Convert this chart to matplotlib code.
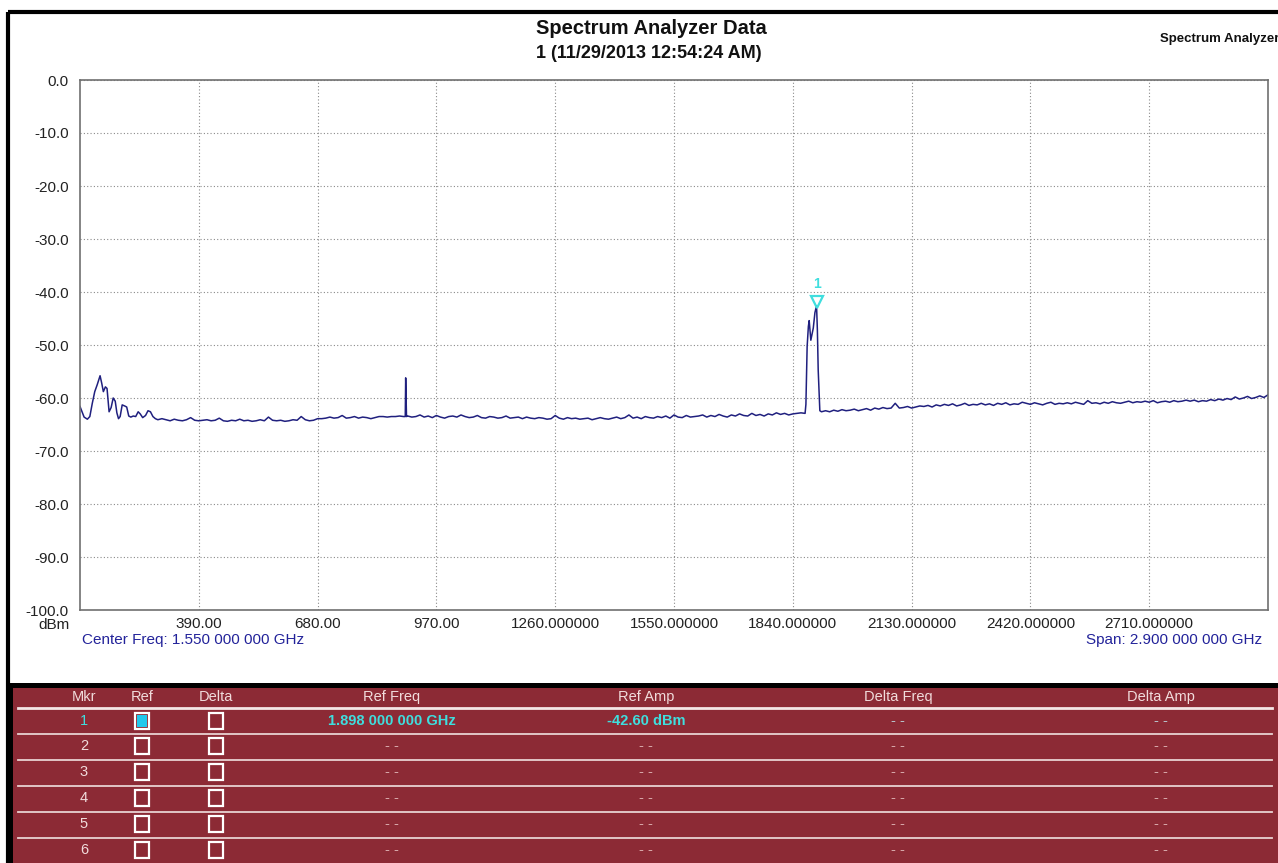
import matplotlib.pyplot as plt
import numpy as np
from matplotlib.patches import Rectangle
from matplotlib import transforms

plt.rcParams['font.family'] = ['Liberation Sans', 'DejaVu Sans']

# low band ripple below 300 MHz (MHz / dBm)
ripple_freq = [100, 105, 110, 118, 124, 130, 136, 142, 149, 153, 157, 162, 166, 171, 176,
               181, 186, 190, 194, 198, 203, 209, 214, 219, 224, 230, 236, 242, 247, 253,
               260, 266, 272, 278, 284, 290, 300]
ripple_dbm = [-61.6, -62.6, -63.6, -64.0, -63.5, -61.0, -58.8, -57.5, -55.8, -57.2, -58.8,
              -57.9, -58.2, -62.6, -61.8, -60.0, -60.6, -62.8, -63.9, -63.5, -61.3, -61.5,
              -61.7, -63.4, -63.6, -63.4, -63.5, -62.6, -63.0, -63.7, -63.3, -62.4, -62.6,
              -63.5, -63.9, -64.1, -63.9]

# noise floor, one value every 10 MHz from 310 to 3000 MHz
floor_dbm = [
    -64.1, -64.3, -64.0, -64.2, -64.3, -64.1, -63.7, -64.2, -64.3, -64.2,
    -64.1, -64.3, -64.2, -63.8, -64.3, -64.4, -64.2, -64.3, -64.0, -64.3,
    -64.2, -64.4, -64.3, -64.1, -64.3, -63.6, -64.2, -64.3, -64.2, -64.4,
    -64.3, -64.1, -64.2, -63.5, -64.1, -64.3, -64.2, -63.9, -63.9, -63.8,
    -63.6, -63.8, -63.7, -63.3, -63.8, -63.7, -63.5, -63.8, -63.6, -63.7,
    -63.9, -63.7, -63.5, -63.5, -63.6, -63.5, -63.5, -63.4, -63.5, -63.4,
    -63.6, -63.5, -63.2, -63.6, -63.4, -63.7, -63.3, -63.6, -63.8, -63.5,
    -63.4, -63.6, -63.2, -63.5, -63.7, -63.6, -63.3, -63.7, -63.8, -63.5,
    -63.6, -63.8, -63.7, -63.4, -63.8, -63.7, -63.6, -63.9, -63.6, -63.8,
    -63.9, -63.7, -63.8, -64.0, -63.9, -63.3, -63.8, -64.0, -63.7, -63.9,
    -63.8, -64.0, -63.9, -63.8, -64.1, -63.9, -63.7, -63.9, -64.0, -63.8,
    -63.6, -63.9, -63.7, -63.2, -63.8, -63.6, -63.9, -63.5, -63.7, -63.8,
    -63.5, -63.7, -63.4, -63.8, -63.2, -63.6, -63.7, -63.3, -63.6, -63.5,
    -63.4, -63.2, -63.6, -63.3, -63.5, -63.1, -63.4, -63.6, -63.2, -63.4,
    -63.0, -63.3, -63.4, -62.9, -63.3, -63.1, -63.4, -63.0, -63.2, -62.8,
    -63.1, -62.9, -63.2, -63.0, -62.9, -62.8, -62.9, -45.4, -46.8, -47.2,
    -62.6, -62.4, -62.6, -62.3, -62.5, -62.2, -62.4, -62.3, -62.1, -62.4,
    -62.2, -62.0, -62.3, -61.9, -62.1, -61.8, -62.0, -61.9, -61.0, -61.9,
    -61.8, -61.6, -61.9, -61.7, -61.5, -61.6, -61.4, -61.7, -61.3, -61.5,
    -61.2, -61.4, -61.1, -61.5, -61.3, -61.0, -61.4, -61.2, -61.3, -61.0,
    -61.3, -61.1, -61.4, -61.0, -61.2, -60.9, -61.3, -61.1, -61.2, -60.8,
    -61.0, -61.2, -60.9, -61.1, -61.3, -61.0, -60.8, -61.2, -61.0, -61.1,
    -60.9, -61.1, -60.8, -61.0, -61.2, -60.5, -61.0, -60.9, -61.1, -60.8,
    -61.0, -60.7, -60.9, -61.0, -60.8, -60.6, -60.9, -60.7, -60.8, -60.6,
    -60.8, -60.5, -60.9, -60.7, -60.6, -60.8, -60.5, -60.7, -60.6, -60.4,
    -60.6, -60.4, -60.7, -60.5, -60.6, -60.3, -60.5, -60.2, -60.4, -60.1,
    -60.3, -59.8, -60.2, -60.0, -59.7, -60.1, -59.9, -59.6, -59.9, -59.4,
]

# extra points on the two spikes
spike_freq = [894, 895, 897, 1872, 1875, 1878, 1884, 1894, 1898, 1902, 1906]
spike_dbm = [-63.5, -56.2, -63.5, -61.2, -50.3, -46.5, -49.1, -43.9, -42.6, -54.7, -62.4]

mkr_freq = 1898
mkr_dbm = -42.6

x_ticks = [390, 680, 970, 1260, 1550, 1840, 2130, 2420, 2710]
x_labels = ['390.00', '680.00', '970.00', '1260.000000', '1550.000000', '1840.000000',
            '2130.000000', '2420.000000', '2710.000000']
y_ticks = [0, -10, -20, -30, -40, -50, -60, -70, -80, -90, -100]

# marker table
table_headers = ['Mkr', 'Ref', 'Delta', 'Ref Freq', 'Ref Amp', 'Delta Freq', 'Delta Amp']
marker_ids = ['1', '2', '3', '4', '5', '6']
ref_freq_vals = ['1.898 000 000 GHz', '- -', '- -', '- -', '- -', '- -']
ref_amp_vals = ['-42.60 dBm', '- -', '- -', '- -', '- -', '- -']
delta_freq_vals = ['- -'] * 6
delta_amp_vals = ['- -'] * 6

floor_freq = np.arange(310, 3001, 10)
freq = np.concatenate([ripple_freq, floor_freq, spike_freq])
dbm = np.concatenate([ripple_dbm, floor_dbm, spike_dbm])
order = np.argsort(freq, kind='stable')
freq = freq[order]
dbm = dbm[order]

W, H = 1278, 863
fig = plt.figure(figsize=(W / 100, H / 100), dpi=100)
fig.patch.set_facecolor('white')

# background layer in pixel coordinates
bg = fig.add_axes([0, 0, 1, 1])
bg.set_xlim(0, W)
bg.set_ylim(H, 0)
bg.axis('off')

bg.plot([8, 8], [12, H], color='black', lw=3, solid_capstyle='butt')
bg.plot([8, W], [12.5, 12.5], color='black', lw=3, solid_capstyle='butt')

bg.text(651, 28, 'Spectrum Analyzer Data', ha='center', va='center', fontsize=14.5,
        fontweight='bold', color='#111111')
bg.text(649, 53, '1 (11/29/2013 12:54:24 AM)', ha='center', va='center', fontsize=13,
        fontweight='bold', color='#111111')
bg.text(1160, 39, 'Spectrum Analyzer', ha='left', va='center', fontsize=9.5,
        fontweight='bold', color='#111111')

bg.text(70, 625, 'dBm', ha='right', va='center', fontsize=11, color='#222222')
bg.text(82, 640, 'Center Freq: 1.550 000 000 GHz', ha='left', va='center', fontsize=11,
        color='#23239a')
bg.text(1262, 640, 'Span: 2.900 000 000 GHz', ha='right', va='center', fontsize=11,
        color='#23239a')

# table block
bg.add_patch(Rectangle((8, 683), W - 8, H - 683, facecolor='black', edgecolor='none'))
bg.add_patch(Rectangle((13, 688), W - 13, H - 688, facecolor='#8c2a35', edgecolor='none'))

col_x = [84, 142, 216, 392, 646, 898, 1161]
head_y = 697
row_y = [721, 746, 772, 798, 824, 850]
light = '#f1dcdc'
dash_c = '#d9a9ab'
cyan = '#3fdede'

for cx, name in zip(col_x, table_headers):
    bg.text(cx, head_y, name, ha='center', va='center', fontsize=10.5, color=light)
bg.plot([18, 1272], [708, 708], color='#f4e6e6', lw=2)
for yy in [734, 760, 786, 812, 838]:
    bg.plot([18, 1272], [yy, yy], color='#e9d2d2', lw=1.3)

for i, yy in enumerate(row_y):
    bg.text(col_x[0], yy, marker_ids[i], ha='center', va='center', fontsize=10.5,
            color=cyan if i == 0 else light)
    for cx in col_x[1:3]:
        bg.add_patch(Rectangle((cx - 7, yy - 8), 14, 16, facecolor='none',
                               edgecolor='white', lw=1.6))
    if i == 0:
        bg.add_patch(Rectangle((col_x[1] - 5, yy - 6), 10, 12, facecolor='#22c8ec',
                               edgecolor='none'))
    vals = [ref_freq_vals[i], ref_amp_vals[i], delta_freq_vals[i], delta_amp_vals[i]]
    for j, (cx, v) in enumerate(zip(col_x[3:], vals)):
        if i == 0 and j < 2:
            bg.text(cx, yy, v, ha='center', va='center', fontsize=10.5,
                    fontweight='bold', color=cyan)
        else:
            bg.text(cx, yy, v, ha='center', va='center', fontsize=10.5,
                    color='#b8c4cc' if i == 0 else dash_c)

# spectrum plot
ax = fig.add_axes([80 / W, 1 - 610 / H, 1188 / W, 530 / H])
ax.plot(freq, dbm, color='#20207f', lw=1.1)
ax.set_xlim(100, 3000)
ax.set_ylim(-100, 0)
ax.set_xticks(x_ticks)
ax.set_xticklabels(x_labels, fontsize=11, color='#222222')
ax.set_yticks(y_ticks)
ax.set_yticklabels(['%.1f' % v for v in y_ticks], fontsize=11, color='#222222')
ax.tick_params(axis='x', length=0, pad=5)
ax.tick_params(axis='y', length=0, pad=8)
ax.grid(True, color='#8a8a8a', lw=0.8, linestyle=(0, (1, 2)))
for sp in ax.spines.values():
    sp.set_color('#707070')
    sp.set_linewidth(1.2)

# marker 1
up = transforms.offset_copy(ax.transData, fig=fig, x=0, y=4, units='dots')
ax.plot([mkr_freq], [mkr_dbm], marker='v', markersize=8, markerfacecolor='none',
        markeredgecolor=cyan, markeredgewidth=1.6, transform=up, clip_on=False)
up2 = transforms.offset_copy(ax.transData, fig=fig, x=0, y=22, units='dots')
ax.text(mkr_freq, mkr_dbm, '1', transform=up2, ha='center', va='center', fontsize=10,
        fontweight='bold', color=cyan)

plt.savefig('out.png', dpi=100)
